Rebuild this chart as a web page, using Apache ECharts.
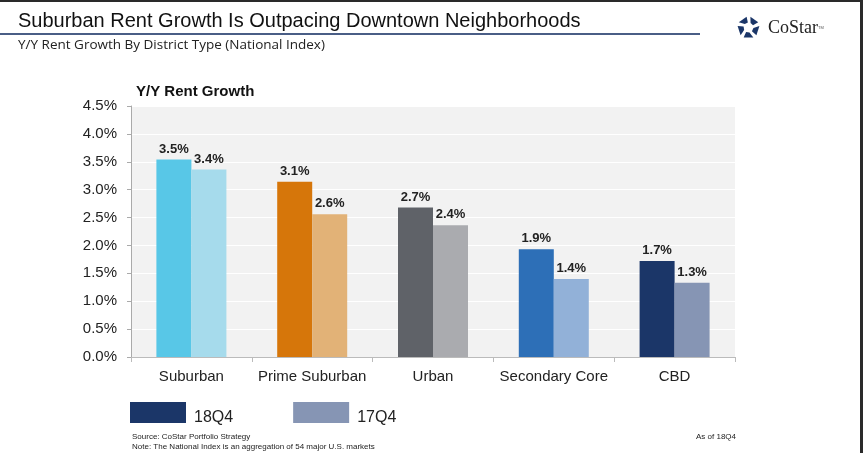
<!DOCTYPE html>
<html><head><meta charset="utf-8">
<script src="https://cdn.jsdelivr.net/npm/echarts@6/dist/echarts.min.js"></script>
<style>html,body{margin:0;padding:0;background:#fff}#c{width:863px;height:453px}</style>
</head><body><div id="c"></div>
<script>
const categories = ['Suburban', 'Prime Suburban', 'Urban', 'Secondary Core', 'CBD'];
const seriesNames = ['18Q4', '17Q4'];
const values18Q4 = [3.54, 3.14, 2.68, 1.93, 1.72];
const values17Q4 = [3.36, 2.56, 2.36, 1.40, 1.33];
const colors18Q4 = ['#58C7E7', '#D6760A', '#5F6268', '#2D6FB7', '#1B3668'];
const colors17Q4 = ['#A6DBEC', '#E2B277', '#AAABAF', '#92B1D8', '#8695B4'];
const yTicks = { min: 0, max: 4.5, interval: 0.5 };

const chart = echarts.init(document.getElementById('c'));
const labelFmt = p => p.value.toFixed(1) + '%';
function mk(vals, cols) {
  return vals.map((v, i) => ({ value: v, itemStyle: { color: cols[i] } }));
}

// logo star pieces
const logoParts = [];
const cx = 748.5, cy = 27.5, R = 11, r = 5;
for (let k = 0; k < 5; k++) {
  const a0 = (-90 + k * 72 + 10) * Math.PI / 180;
  const a1 = (-90 + k * 72 + 62) * Math.PI / 180;
  const am = (-90 + k * 72 + 36) * Math.PI / 180;
  logoParts.push({
    type: 'polygon',
    shape: { points: [
      [cx + R * Math.cos(a0), cy + R * Math.sin(a0)],
      [cx + R * Math.cos(a1), cy + R * Math.sin(a1)],
      [cx + r * Math.cos(am + 0.5), cy + r * Math.sin(am + 0.5)],
      [cx + r * Math.cos(am - 0.2), cy + r * Math.sin(am - 0.2)]
    ] },
    style: { fill: '#1B3668' }
  });
}

const footFont = '8px Liberation Sans Narrow, Arial Narrow, Liberation Sans, sans-serif';

chart.setOption({
  animation: false,
  textStyle: { fontFamily: 'Liberation Sans, Arial, sans-serif' },
  grid: { left: 131, right: 128, top: 106, bottom: 96, show: true, backgroundColor: '#F2F2F2', borderWidth: 0 },
  legend: {
    left: 125, top: 397,
    itemWidth: 56, itemHeight: 21, itemGap: 60,
    icon: 'rect',
    formatter: '{t|{name}}',
    textStyle: { color: '#222', rich: { t: { fontSize: 16, color: '#222', padding: [10, 0, 0, 3] } } },
    data: seriesNames
  },
  xAxis: {
    type: 'category', data: categories,
    axisLine: { lineStyle: { color: '#BBBBBB' } },
    axisTick: { show: true, length: 5, lineStyle: { color: '#BBBBBB' } },
    axisLabel: { fontSize: 15, color: '#222', margin: 12, interval: 0 }
  },
  yAxis: {
    type: 'value', min: yTicks.min, max: yTicks.max, interval: yTicks.interval,
    axisLine: { show: true, lineStyle: { color: '#AAAAAA' } },
    axisTick: { show: true, length: 4, lineStyle: { color: '#AAAAAA' } },
    splitLine: { lineStyle: { color: '#FFFFFF', width: 1 } },
    axisLabel: { fontSize: 15, color: '#222', margin: 14, formatter: v => v.toFixed(1) + '%' }
  },
  series: [
    { name: seriesNames[0], type: 'bar', barWidth: 35, barGap: '0%', itemStyle: { color: '#1B3668' },
      data: mk(values18Q4, colors18Q4),
      label: { show: true, position: 'top', distance: 4, fontSize: 13, fontWeight: 'bold', color: '#222', formatter: labelFmt } },
    { name: seriesNames[1], type: 'bar', barWidth: 35, barGap: '0%', itemStyle: { color: '#8695B4' },
      data: mk(values17Q4, colors17Q4),
      label: { show: true, position: 'top', distance: 4, fontSize: 13, fontWeight: 'bold', color: '#222', formatter: labelFmt } }
  ],
  graphic: [
    { type: 'rect', shape: { x: 0, y: 0, width: 863, height: 2 }, style: { fill: '#2A2A2A' } },
    { type: 'rect', shape: { x: 860, y: 0, width: 3, height: 453 }, style: { fill: '#2A2A2A' } },
    { type: 'text', left: 18, top: 11, style: { text: 'Suburban Rent Growth Is Outpacing Downtown Neighborhoods', font: '20px Liberation Sans, Arial, sans-serif', fill: '#111' } },
    { type: 'rect', shape: { x: 0, y: 33, width: 700, height: 2 }, style: { fill: '#4A5E86' } },
    { type: 'text', left: 18, top: 38, style: { text: 'Y/Y Rent Growth By District Type (National Index)', font: '13.5px Open Sans, sans-serif', fill: '#222' } },
    { type: 'text', left: 136, top: 84, style: { text: 'Y/Y Rent Growth', font: 'bold 15px Liberation Sans, Arial, sans-serif', fill: '#111' } },
    ...logoParts,
    { type: 'text', left: 768, top: 19, style: { text: 'CoStar', font: '18px Liberation Serif, DejaVu Serif, serif', fill: '#222' } },
    { type: 'text', left: 818, top: 26, style: { text: 'TM', font: '4px Liberation Sans, sans-serif', fill: '#555' } },
    { type: 'text', left: 132, top: 433, style: { text: 'Source: CoStar Portfolio Strategy', font: footFont, fill: '#222' } },
    { type: 'text', left: 132, top: 443, style: { text: 'Note: The National Index is an aggregation of 54 major U.S. markets', font: footFont, fill: '#222' } },
    { type: 'text', right: 127, top: 433, style: { text: 'As of 18Q4', font: footFont, fill: '#222' } }
  ]
});
</script></body></html>
